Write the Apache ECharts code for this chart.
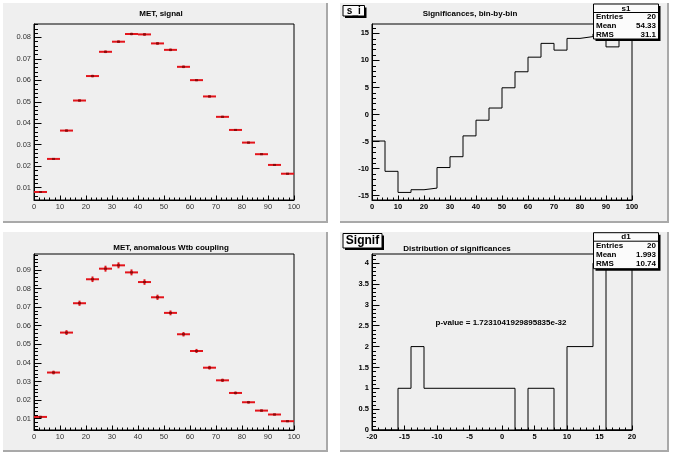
<!DOCTYPE html>
<html>
<head>
<meta charset="utf-8">
<title>MET, significances</title>
<script src="https://cdn.jsdelivr.net/npm/echarts@6/dist/echarts.min.js"></script>
<style>
  html, body { margin: 0; padding: 0; background: #ffffff; }
  #chart { width: 673px; height: 456px; }
</style>
</head>
<body>
<div id="chart"></div>
<script>
// MET bins: 20 bins of width 5 from 0 to 100
const metBins = [2.5, 7.5, 12.5, 17.5, 22.5, 27.5, 32.5, 37.5, 42.5, 47.5,
  52.5, 57.5, 62.5, 67.5, 72.5, 77.5, 82.5, 87.5, 92.5, 97.5]
const binHalfWidth = 2.5

// normalised MET, signal
const metSignal = [0.0080, 0.0234, 0.0366, 0.0506, 0.0620, 0.0733, 0.0780, 0.0816, 0.0814, 0.0772,
  0.0742, 0.0663, 0.0601, 0.0525, 0.0430, 0.0369, 0.0310, 0.0256, 0.0206, 0.0165]
const metSignalErr = [0.0003, 0.0004, 0.0005, 0.0005, 0.0006, 0.0006, 0.0006, 0.0006, 0.0006, 0.0006,
  0.0006, 0.0006, 0.0005, 0.0005, 0.0005, 0.0004, 0.0004, 0.0004, 0.0003, 0.0003]

// normalised MET, anomalous Wtb coupling
const metAnomalous = [0.0109, 0.0348, 0.0563, 0.0721, 0.0850, 0.0907, 0.0925, 0.0887, 0.0835, 0.0753,
  0.0669, 0.0554, 0.0464, 0.0374, 0.0306, 0.0238, 0.0188, 0.0143, 0.0122, 0.0086]
const metAnomalousErr = [0.0006, 0.0010, 0.0013, 0.0014, 0.0015, 0.0016, 0.0016, 0.0016, 0.0015, 0.0014,
  0.0013, 0.0012, 0.0011, 0.0010, 0.0009, 0.0008, 0.0007, 0.0006, 0.0005, 0.0005]

// significance per bin
const significance = [-4.9, -10.5, -14.4, -13.9, -13.6, -9.8, -7.8, -3.95, -1.05, 1.2,
  4.94, 7.9, 10.6, 13.15, 11.9, 14.07, 14.4, 14.9, 12.5, 15.25]

// distribution of significances: 20 bins of width 2 from -20 to 20
const signifEdges = [-20, -18, -16, -14, -12, -10, -8, -6, -4, -2, 0, 2, 4, 6, 8, 10, 12, 14, 16, 18, 20]
const signifCounts = [0, 0, 1, 2, 1, 1, 1, 1, 1, 1, 1, 0, 1, 1, 0, 2, 2, 4, 0, 0]

// tick labels
const metSignalTicks = [0.01, 0.02, 0.03, 0.04, 0.05, 0.06, 0.07, 0.08]
const metAnomalousTicks = [0.01, 0.02, 0.03, 0.04, 0.05, 0.06, 0.07, 0.08, 0.09]
const significanceTicks = [-15, -10, -5, 0, 5, 10, 15]
const signifCountTicks = [0, 0.5, 1, 1.5, 2, 2.5, 3, 3.5, 4]

const titles = ['MET, signal', 'Significances, bin-by-bin', 'MET, anomalous Wtb coupling', 'Distribution of significances']
const s1Stats = [['Entries', '20'], ['Mean', '54.33'], ['RMS', '31.1']]
const d1Stats = [['Entries', '20'], ['Mean', '1.993'], ['RMS', '10.74']]
const pValueText = 'p-value = 1.7231041929895835e-32'

const FONT = 'Liberation Sans'

// pad and frame geometry
const pads = [
  { x: 2, y: 2, w: 325, h: 220 },
  { x: 339, y: 2, w: 329, h: 220 },
  { x: 2, y: 231, w: 325, h: 220 },
  { x: 339, y: 231, w: 329, h: 220 },
]
const frames = [
  { left: 34, top: 24 },
  { left: 372, top: 24 },
  { left: 34, top: 254 },
  { left: 372, top: 254 },
]

function minorValues (min, max, step) {
  const out = []
  const start = Math.ceil(min / step - 1e-9)
  for (let i = start; i * step <= max + 1e-9; i++) out.push(+(i * step).toFixed(6))
  return out
}

function labelStyle (bold) {
  return {
    fontFamily: FONT,
    fontSize: 7.5,
    fontWeight: bold ? 'bold' : 'normal',
    color: bold ? '#000' : '#333',
  }
}

function xAxisFor (gridIndex, min, max, interval, bold) {
  return {
    type: 'value',
    gridIndex,
    min,
    max,
    interval,
    position: 'bottom',
    axisLine: { show: true, onZero: false, lineStyle: { color: '#000', width: 1 } },
    axisTick: { show: true, inside: true, length: 4.5, lineStyle: { color: '#000' } },
    minorTick: { show: true, splitNumber: 5, length: 2.5, lineStyle: { color: '#000' } },
    axisLabel: Object.assign({ margin: 3 }, labelStyle(bold)),
    splitLine: { show: false },
  }
}

// two y axes per frame: long ticks with labels, short minor ticks
function yAxesFor (gridIndex, min, max, ticks, minorStep, fmt, bold) {
  return [{
    type: 'value',
    gridIndex,
    min,
    max,
    position: 'left',
    axisLine: { show: true, onZero: false, lineStyle: { color: '#000', width: 1 } },
    axisTick: { show: true, inside: true, length: 7.5, customValues: ticks, lineStyle: { color: '#000' } },
    axisLabel: Object.assign({ margin: 3, customValues: ticks, formatter: fmt }, labelStyle(bold)),
    splitLine: { show: false },
  }, {
    type: 'value',
    gridIndex,
    min,
    max,
    position: 'left',
    offset: 0,
    axisLine: { show: false, onZero: false },
    axisTick: { show: true, inside: true, length: 4, customValues: minorValues(min, max, minorStep), lineStyle: { color: '#000' } },
    axisLabel: { show: false },
    splitLine: { show: false },
  }]
}

// red error-bar points (bin width horizontally, stat. error vertically)
function renderErrorPoint (params, api) {
  const x = api.value(0)
  const y = api.value(1)
  const e = api.value(2)
  const l = api.coord([x - binHalfWidth, y])
  const r = api.coord([x + binHalfWidth, y])
  const t = api.coord([x, y + e])
  const b = api.coord([x, y - e])
  const c = api.coord([x, y])
  return {
    type: 'group',
    children: [
      { type: 'line', shape: { x1: l[0], y1: l[1], x2: r[0], y2: r[1] }, style: { stroke: '#e3141b', lineWidth: 2 } },
      { type: 'line', shape: { x1: t[0], y1: t[1], x2: b[0], y2: b[1] }, style: { stroke: '#e3141b', lineWidth: 2 } },
      { type: 'rect', shape: { x: c[0] - 1.5, y: c[1] - 1, width: 3, height: 2 }, style: { fill: '#8a0a0a' } },
    ],
  }
}

// step outline of a histogram: each bin's left edge, then the last right edge
function stepData (leftEdges, values, lastEdge) {
  const pts = leftEdges.map((e, i) => [e, values[i]])
  pts.push([lastEdge, values[values.length - 1]])
  return pts
}

function padGraphics (p) {
  return [
    { type: 'rect', z: -10, shape: { x: p.x, y: p.y, width: p.w, height: p.h }, style: { fill: '#efefef' } },
    { type: 'polyline', z: -9, shape: { points: [[p.x, p.y + p.h], [p.x, p.y], [p.x + p.w, p.y]] }, style: { stroke: '#ffffff', lineWidth: 2, fill: null } },
    { type: 'polyline', z: -9, shape: { points: [[p.x + 1, p.y + p.h], [p.x + p.w, p.y + p.h], [p.x + p.w, p.y + 1]] }, style: { stroke: '#a9a9a9', lineWidth: 2, fill: null } },
  ]
}

function textEl (x, y, text, size, align, bold, z) {
  return {
    type: 'text',
    z: z || 60,
    x,
    y,
    style: {
      text,
      fontFamily: FONT,
      fontSize: size,
      fontWeight: bold ? 'bold' : 'normal',
      fill: '#000',
      align,
      verticalAlign: 'middle',
    },
  }
}

function shadowBox (x, y, w, h, z) {
  return [
    { type: 'rect', z, shape: { x: x + 2, y: y + 2, width: w, height: h }, style: { fill: '#000' } },
    { type: 'rect', z: z + 1, shape: { x, y, width: w, height: h }, style: { fill: '#fbfbfb', stroke: '#000', lineWidth: 1 } },
  ]
}

function statsBox (x, y, w, h, name, rows) {
  const els = shadowBox(x, y, w, h, 50)
  const head = 8.5
  els.push({ type: 'line', z: 52, shape: { x1: x, y1: y + head, x2: x + w, y2: y + head }, style: { stroke: '#000', lineWidth: 1 } })
  els.push(textEl(x + w / 2, y + head / 2 + 0.3, name, 8, 'center', true, 53))
  const rowH = (h - head) / rows.length
  rows.forEach(([k, v], i) => {
    const cy = y + head + rowH * (i + 0.5)
    els.push(textEl(x + 2.5, cy, k, 8, 'left', true, 53))
    els.push(textEl(x + w - 2.5, cy, v, 8, 'right', true, 53))
  })
  return els
}

const graphics = []
pads.forEach((p) => graphics.push(...padGraphics(p)))
graphics.push(textEl(161, 14, titles[0], 8, 'center', true))
graphics.push(textEl(470, 14, titles[1], 8, 'center', true))
graphics.push(textEl(171, 248, titles[2], 8, 'center', true))
graphics.push(textEl(457, 249, titles[3], 8, 'center', true))
graphics.push(...shadowBox(343, 5.5, 21.5, 10.5, 50))
graphics.push(textEl(353.8, 11, 's_i', 10, 'center', true, 53))
graphics.push(...shadowBox(343, 233.5, 39, 14.5, 50))
graphics.push(textEl(362.5, 241, 'Signif', 12, 'center', true, 53))
graphics.push(...statsBox(593.5, 4, 65, 35, 's1', s1Stats))
graphics.push(...statsBox(593.5, 232.7, 65, 36, 'd1', d1Stats))
graphics.push(textEl(501, 322.7, pValueText, 8, 'center', true))

const fmt2 = (v) => v.toFixed(2)
const fmtPlain = (v) => String(+v.toFixed(2))

const chart = echarts.init(document.getElementById('chart'), null, { renderer: 'canvas' })
chart.setOption({
  animation: false,
  backgroundColor: '#ffffff',
  graphic: { elements: graphics },
  grid: frames.map((f) => ({
    left: f.left,
    top: f.top,
    width: 260,
    height: 176,
    show: true,
    borderColor: '#000',
    borderWidth: 1,
    backgroundColor: 'transparent',
    outerBoundsMode: 'none',
  })),
  xAxis: [
    xAxisFor(0, 0, 100, 10, false),
    xAxisFor(1, 0, 100, 10, true),
    xAxisFor(2, 0, 100, 10, false),
    xAxisFor(3, -20, 20, 5, true),
  ],
  yAxis: [
    ...yAxesFor(0, 0.00426, 0.08625, metSignalTicks, 0.002, fmt2, false),
    ...yAxesFor(1, -15.8, 16.73, significanceTicks, 1, fmtPlain, true),
    ...yAxesFor(2, 0.00386, 0.0986, metAnomalousTicks, 0.002, fmt2, false),
    ...yAxesFor(3, 0, 4.22, signifCountTicks, 0.1, fmtPlain, true),
  ],
  series: [
    {
      type: 'custom',
      xAxisIndex: 0,
      yAxisIndex: 0,
      renderItem: renderErrorPoint,
      data: metBins.map((x, i) => [x, metSignal[i], metSignalErr[i]]),
      z: 5,
    },
    {
      type: 'line',
      xAxisIndex: 1,
      yAxisIndex: 2,
      step: 'end',
      symbol: 'none',
      lineStyle: { color: '#000', width: 1 },
      data: stepData(metBins.map((c) => c - binHalfWidth), significance, 100),
      z: 5,
    },
    {
      type: 'custom',
      xAxisIndex: 2,
      yAxisIndex: 4,
      renderItem: renderErrorPoint,
      data: metBins.map((x, i) => [x, metAnomalous[i], metAnomalousErr[i]]),
      z: 5,
    },
    {
      type: 'line',
      xAxisIndex: 3,
      yAxisIndex: 6,
      step: 'end',
      symbol: 'none',
      lineStyle: { color: '#000', width: 1 },
      data: stepData(signifEdges.slice(0, -1), signifCounts, signifEdges[signifEdges.length - 1]),
      z: 5,
    },
  ],
})
</script>
</body>
</html>
